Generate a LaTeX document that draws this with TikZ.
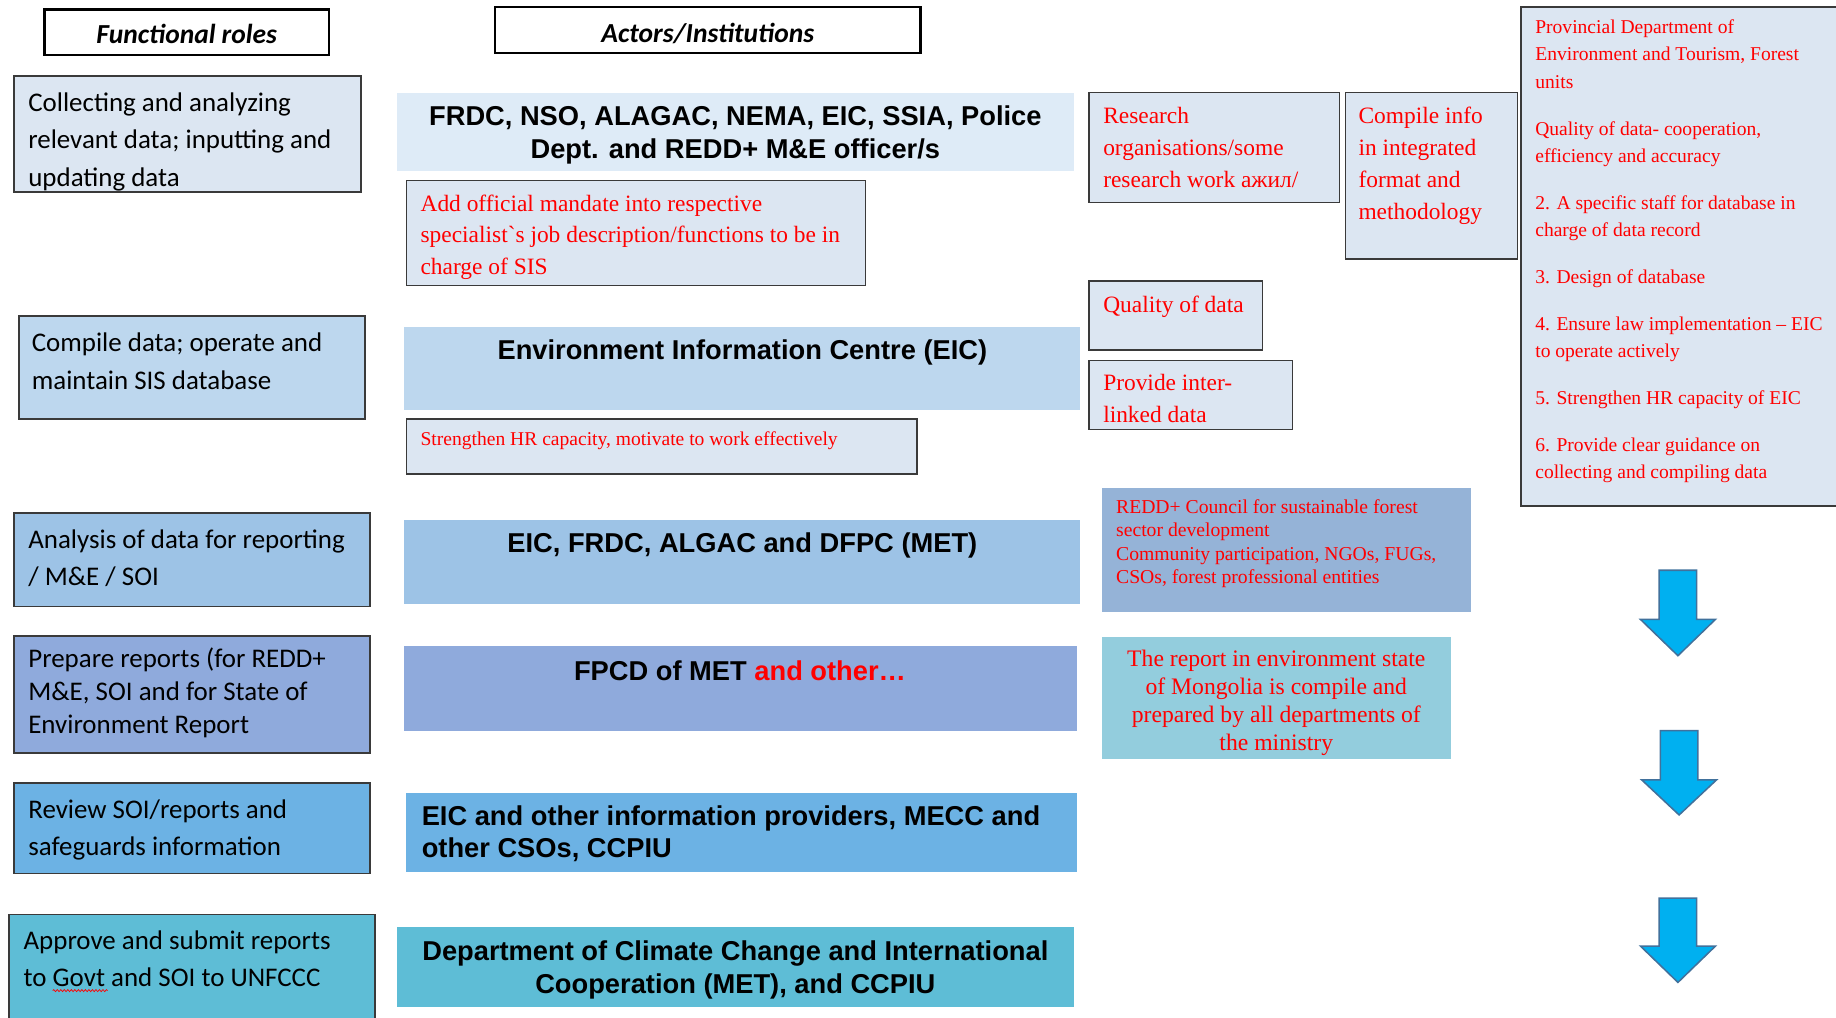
\documentclass[tikz,border=0pt]{standalone}
\usepackage{fontspec}
\setmainfont{Liberation Serif}
\newfontfamily\calfont{Carlito}
\newfontfamily\arifont{Liberation Sans}
\newfontfamily\plainserif[Ligatures=ResetAll]{Liberation Serif}
\usetikzlibrary{decorations.pathmorphing}
\definecolor{cA}{HTML}{DEEBF7}
\definecolor{cnote}{HTML}{DCE6F2}
\definecolor{cB}{HTML}{BDD7EE}
\definecolor{cC}{HTML}{9DC3E6}
\definecolor{cD}{HTML}{8FAADC}
\definecolor{cE}{HTML}{6CB2E4}
\definecolor{cF}{HTML}{5EBDD6}
\definecolor{cG}{HTML}{95B3D7}
\definecolor{cH}{HTML}{93CDDD}
\definecolor{arrowfill}{HTML}{00B0F0}
\definecolor{arrowline}{HTML}{41719C}
\definecolor{edge}{HTML}{3A3A3A}
\definecolor{redtxt}{HTML}{FF0000}
\tikzset{
  shape box/.style={rectangle, anchor=north west, inner sep=0pt, outer sep=0pt},
  headbox/.style={shape box, draw=black, line width=2pt, fill=white},
  rolebox/.style={shape box, draw=edge, line width=1.6pt},
  actorbox/.style={shape box, draw=none},
  notebox/.style={shape box, draw=edge, line width=1.3pt, fill=cnote},
  plainbox/.style={shape box, draw=none},
  headtxt/.style={anchor=base, inner sep=0pt, font=\calfont\bfseries\itshape\fontsize{23.5}{28}\selectfont},
  roletxt/.style={anchor=north west, inner sep=0pt, align=left, font=\calfont\fontsize{23}{32}\selectfont},
  actortxt/.style={anchor=north, inner sep=0pt, align=center, font=\arifont\bfseries\fontsize{23.3}{28}\selectfont},
  redbig/.style={anchor=north west, inner sep=0pt, align=left, text=redtxt, font=\fontsize{20}{27.3}\selectfont},
  redsmall/.style={anchor=north west, inner sep=0pt, align=left, text=redtxt, font=\fontsize{16.7}{23.3}\selectfont},
  blockarrow/.style={fill=arrowfill, draw=arrowline, line width=1.3pt, line join=miter},
}
\begin{document}
\begin{tikzpicture}[x=1pt,y=-1pt]
\useasboundingbox (0,0) rectangle (1568,869);
\clip (0,0) rectangle (1568,869);

% headers
\node[headbox, minimum width=243, minimum height=39] (H1) at (38,8) {};
\node[headtxt] (H1t) at (159.5,37.5) {Functional roles};
\node[headbox, minimum width=363, minimum height=39] (H2) at (423,6) {};
\node[headtxt] (H2t) at (604.5,36.4) {Actors/Institutions};

% functional roles
\node[rolebox, fill=cnote, minimum width=296, minimum height=99] (L1) at (12,65) {};
\node[roletxt] (L1t) at (24,72.6) {\strut Collecting and analyzing\\relevant data; inputting and\\updating data};
\node[rolebox, fill=cB, minimum width=296, minimum height=88] (L2) at (16,270) {};
\node[roletxt] (L2t) at (27,277.9) {\strut Compile data; operate and\\maintain SIS database};
\node[rolebox, fill=cC, minimum width=304, minimum height=80] (L3) at (12,438) {};
\node[roletxt] (L3t) at (24,445.6) {\strut Analysis of data for reporting\\/ M\&E / SOI};
\node[rolebox, fill=cD, minimum width=304, minimum height=100] (L4) at (12,543) {};
\node[roletxt, font=\calfont\fontsize{23}{28}\selectfont] (L4t) at (24,550.4) {\strut Prepare reports (for REDD+\\M\&E, SOI and for State of\\Environment Report};
\node[rolebox, fill=cE, minimum width=304, minimum height=77] (L5) at (12,669) {};
\node[roletxt, font=\calfont\fontsize{23}{31}\selectfont] (L5t) at (24,677.3) {\strut Review SOI/reports and\\safeguards information};
\node[rolebox, fill=cF, minimum width=312, minimum height=99] (L6) at (8,781) {};
\node[roletxt, font=\calfont\fontsize{23}{31}\selectfont] (L6t) at (20,789.3) {\strut Approve and submit reports\\to Govt and SOI to UNFCCC};
\coordinate (wavyA) at (45,846);
\coordinate (wavyB) at (92,846);
\draw[redtxt, line width=0.6pt, decorate, decoration={snake, amplitude=0.9pt, segment length=3pt}] (wavyA) -- (wavyB);

% actors
\node[actorbox, fill=cA, minimum width=578, minimum height=67] (M1) at (339,79) {};
\node[actortxt] (M1t) at (628,87.4) {\strut FRDC, NSO, ALAGAC, NEMA, EIC, SSIA, Police\\Dept. and REDD+ M\&E officer/s};
\node[notebox, minimum width=392, minimum height=90] (M1n) at (347,154) {};
\node[redbig, font=\plainserif\fontsize{20}{27}\selectfont] (M1nt) at (359,161.1) {\strut Add official mandate into respective\\specialist`s job description/functions to be in\\charge of SIS};

\node[actorbox, fill=cB, minimum width=577, minimum height=71] (M2) at (345,279) {};
\node[actortxt] (M2t) at (634,287.4) {\strut Environment Information Centre (EIC)};
\node[notebox, minimum width=436, minimum height=47] (M2n) at (347,358) {};
\node[redsmall] (M2nt) at (359,363.7) {\strut Strengthen HR capacity, motivate to work effectively};

\node[actorbox, fill=cC, minimum width=577, minimum height=72] (M3) at (345,444) {};
\node[actortxt] (M3t) at (634,452.4) {\strut EIC, FRDC, ALGAC and DFPC (MET)};

\node[actorbox, fill=cD, minimum width=575, minimum height=72] (M4) at (345,552) {};
\node[actortxt] (M4t) at (632,561.1) {\strut FPCD of MET \textcolor{redtxt}{and other…}};

\node[actorbox, fill=cE, minimum width=573, minimum height=68] (M5) at (347,677) {};
\node[actortxt, anchor=north west, align=left, font=\arifont\bfseries\fontsize{23.3}{27.5}\selectfont] (M5t) at (360,685.4) {\strut EIC and other information providers, MECC and\\other CSOs, CCPIU};

\node[actorbox, fill=cF, minimum width=578, minimum height=68] (M6) at (339,792) {};
\node[actortxt] (M6t) at (628,800.4) {\strut Department of Climate Change and International\\Cooperation (MET), and CCPIU};

% right notes
\node[notebox, minimum width=214, minimum height=94] (R1) at (930,79) {};
\node[redbig] (R1t) at (942,86.2) {\strut Research\\organisations/some\\research work ажил/};
\node[notebox, minimum width=147, minimum height=142] (R2) at (1149,79) {};
\node[redbig] (R2t) at (1160,86.2) {\strut Compile info\\in integrated\\format and\\methodology};
\node[notebox, minimum width=148, minimum height=59] (R3) at (930,240) {};
\node[redbig] (R3t) at (942,247.6) {\strut Quality of data};
\node[notebox, minimum width=174, minimum height=59] (R4) at (930,308) {};
\node[redbig] (R4t) at (942,314.5) {\strut Provide inter-\\linked data};

\node[notebox, minimum width=290, minimum height=426] (R5) at (1299,6) {};
\node[redsmall] (R5t) at (1311,12.2) {\strut Provincial Department of\\Environment and Tourism, Forest\\units\\[16.7pt]
Quality of data- cooperation,\\efficiency and accuracy\\[16.7pt]
2. A specific staff for database in\\charge of data record\\[16.7pt]
3. Design of database\\[16.7pt]
4. Ensure law implementation -- EIC\\to operate actively\\[16.7pt]
5. Strengthen HR capacity of EIC\\[16.7pt]
6. Provide clear guidance on\\collecting and compiling data};

\node[plainbox, fill=cG, minimum width=315, minimum height=106] (R6) at (941,417) {};
\node[redsmall, font=\fontsize{16.8}{20}\selectfont] (R6t) at (953,424.4) {\strut REDD+ Council for sustainable forest\\sector development\\Community participation, NGOs, FUGs,\\CSOs, forest professional entities};

\node[plainbox, fill=cH, minimum width=298, minimum height=104] (R7) at (941,544) {};
\node[redbig, anchor=north, align=center, font=\fontsize{20.2}{23.7}\selectfont] (R7t) at (1090,552.7) {\strut The report in environment state\\of Mongolia is compile and\\prepared by all departments of\\the ministry};

% block arrows
\draw[blockarrow] (1417,487) -- (1449,487) -- (1449,529) -- (1465,529) -- (1433,560) -- (1401,529) -- (1417,529) -- cycle;
\draw[blockarrow] (1418,624) -- (1450,624) -- (1450,666) -- (1466,666) -- (1434,696) -- (1402,666) -- (1418,666) -- cycle;
\draw[blockarrow] (1417,767) -- (1449,767) -- (1449,808) -- (1465,808) -- (1433,839) -- (1401,808) -- (1417,808) -- cycle;
\end{tikzpicture}
\end{document}
